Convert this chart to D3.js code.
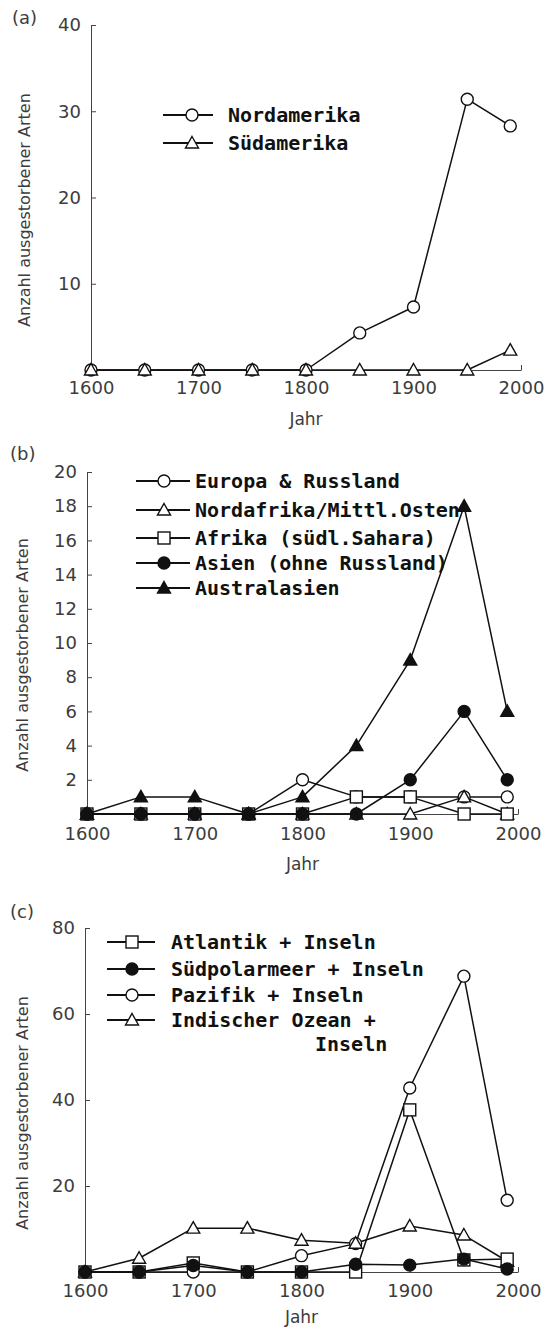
<!DOCTYPE html>
<html><head><meta charset="utf-8">
<script src="https://cdn.jsdelivr.net/npm/d3@7"></script>
<style>body{margin:0;background:#fff}</style>
</head><body><svg id="c" width="550" height="1330"></svg>
<script>
// ---- data ----
const years = [1600, 1650, 1700, 1750, 1800, 1850, 1900, 1950, 1990];
const xTickValues = [1600, 1700, 1800, 1900, 2000];
const yTicksA = [10, 20, 30, 40];
const yTicksB = [2, 4, 6, 8, 10, 12, 14, 16, 18, 20];
const yTicksC = [20, 40, 60, 80];

const nordamerika = [0, 0, 0, 0, 0, 4.3, 7.3, 31.4, 28.3];
const suedamerika = [0, 0, 0, 0, 0, 0, 0, 0, 2.3];

const europa = [0, 0, 0, 0, 2, 1, 1, 1, 1];
const nordafrika = [0, 0, 0, 0, 0, 0, 0, 1, 0];
const afrikaSued = [0, 0, 0, 0, 0, 1, 1, 0, 0];
const asien = [0, 0, 0, 0, 0, 0, 2, 6, 2];
const australasien = [0, 1, 1, 0, 1, 4, 9, 18, 6];

const atlantik = [0, 0, 2.1, 0, 0, 0, 37.7, 2.8, 3.0];
const suedpolar = [0, 0, 1.5, 0, 0, 1.8, 1.6, 3.0, 0.7];
const pazifik = [0, 0, 0, 0, 3.8, 6.6, 42.8, 68.8, 16.7];
const indisch = [0, 3.2, 10.2, 10.2, 7.4, 6.7, 10.7, 8.6, 2.5];

const yLabel = "Anzahl ausgestorbener Arten";
const xLabel = "Jahr";

// ---- drawing ----
const svg = d3.select('#c');
const INK = '#111';
const GREY = '#3c3c3c';

function drawMarker(g, type, cx, cy) {
  const filled = type.startsWith('f');
  const shape = type.slice(1);
  let el;
  if (shape === 'circle') {
    el = g.append('circle').attr('cx', cx).attr('cy', cy).attr('r', 6);
  } else if (shape === 'square') {
    el = g.append('rect').attr('x', cx - 6).attr('y', cy - 6).attr('width', 12).attr('height', 12);
  } else {
    el = g.append('path').attr('d', `M${cx},${cy - 6.5}L${cx + 6.5},${cy + 5}L${cx - 6.5},${cy + 5}Z`);
  }
  el.attr('fill', filled ? INK : '#fff').attr('stroke', INK).attr('stroke-width', 1.4);
}

function panel(cfg) {
  const x = d3.scaleLinear().domain([1600, 2000]).range(cfg.xr);
  const y = d3.scaleLinear().domain(cfg.yd).range(cfg.yr);
  const g = svg.append('g');

  const xa = d3.axisBottom(x).tickValues(xTickValues).tickFormat(d3.format('d'))
    .tickSizeInner(-5).tickSizeOuter(0).tickPadding(cfg.xpad);
  const gx = g.append('g').attr('transform', `translate(0,${y(0)})`).call(xa);
  const ya = d3.axisLeft(y).tickValues(cfg.yt).tickSizeInner(-5).tickSizeOuter(0).tickPadding(10);
  const gy = g.append('g').attr('transform', `translate(${x(1600)},0)`).call(ya);
  [gx, gy].forEach(a => {
    a.select('.domain').attr('stroke', '#444').attr('stroke-width', 1);
    a.selectAll('.tick line').attr('stroke', '#444');
    a.selectAll('.tick text').attr('font-family', 'DejaVu Sans')
      .attr('font-size', 18).attr('fill', GREY);
  });

  // axis titles
  g.append('text').attr('transform', `translate(${cfg.ylx},${cfg.yly}) rotate(-90)`)
    .attr('text-anchor', 'middle').attr('font-family', 'DejaVu Sans')
    .attr('font-size', 16).attr('fill', GREY).text(yLabel);
  g.append('text').attr('x', (cfg.xr[0] + cfg.xr[1]) / 2).attr('y', cfg.xly)
    .attr('text-anchor', 'middle').attr('font-family', 'DejaVu Sans')
    .attr('font-size', 17).attr('fill', GREY).text(xLabel);
  g.append('text').attr('x', cfg.tag[1]).attr('y', cfg.tag[2])
    .attr('font-family', 'DejaVu Sans')
    .attr('font-size', 18).attr('fill', GREY).text(cfg.tag[0]);

  const line = d3.line().x((d, i) => x(years[i])).y(d => y(d));
  cfg.series.forEach(s => {
    g.append('path').datum(s.values).attr('d', line).attr('fill', 'none')
      .attr('stroke', INK).attr('stroke-width', 1.5).attr('stroke-linejoin', 'round');
  });
  cfg.series.forEach(s => {
    const mg = g.append('g');
    s.values.forEach((v, i) => drawMarker(mg, s.marker, x(years[i]), y(v)));
  });

  // legend
  const L = cfg.legend;
  cfg.legendOrder.forEach((idx, k) => {
    const s = cfg.series[idx];
    const ly = L.rows[k];
    g.append('line').attr('x1', L.x1).attr('x2', L.x2).attr('y1', ly).attr('y2', ly)
      .attr('stroke', INK).attr('stroke-width', 2);
    drawMarker(g, s.marker, L.mx, ly);
    const lines = s.name.split('\n');
    lines.forEach((t, j) => {
      g.append('text').attr('x', j === 0 ? L.tx : L.tx2).attr('y', ly + 7 + j * 24)
        .attr('font-family', 'DejaVu Sans Mono').attr('font-weight', 'bold')
        .attr('font-size', 20).attr('fill', INK).text(t);
    });
  });
}

panel({
  xr: [91, 521], yd: [0, 40], yr: [370, 25], yt: yTicksA, xpad: 11,
  ylx: 30, yly: 210, xly: 425, tag: ['(a)', 12, 24],
  series: [
    { name: 'Nordamerika', values: nordamerika, marker: 'ocircle' },
    { name: 'Südamerika', values: suedamerika, marker: 'otriangle' }
  ],
  legendOrder: [0, 1],
  legend: { x1: 163, x2: 213, mx: 192, tx: 228, rows: [115, 143] }
});

panel({
  xr: [87, 518], yd: [0, 20], yr: [814, 472], yt: yTicksB, xpad: 13,
  ylx: 28, yly: 655, xly: 870, tag: ['(b)', 10, 460],
  series: [
    { name: 'Europa & Russland', values: europa, marker: 'ocircle' },
    { name: 'Nordafrika/Mittl.Osten', values: nordafrika, marker: 'otriangle' },
    { name: 'Afrika (südl.Sahara)', values: afrikaSued, marker: 'osquare' },
    { name: 'Australasien', values: australasien, marker: 'ftriangle' },
    { name: 'Asien (ohne Russland)', values: asien, marker: 'fcircle' }
  ],
  legendOrder: [0, 1, 2, 4, 3],
  legend: { x1: 136, x2: 190, mx: 164, tx: 195, rows: [481, 510, 538, 563, 588] }
});

panel({
  xr: [85, 518], yd: [0, 80], yr: [1272, 928], yt: yTicksC, xpad: 12,
  ylx: 28, yly: 1113, xly: 1323, tag: ['(c)', 10, 918],
  series: [
    { name: 'Pazifik + Inseln', values: pazifik, marker: 'ocircle' },
    { name: 'Indischer Ozean +\nInseln', values: indisch, marker: 'otriangle' },
    { name: 'Atlantik + Inseln', values: atlantik, marker: 'osquare' },
    { name: 'Südpolarmeer + Inseln', values: suedpolar, marker: 'fcircle' }
  ],
  legendOrder: [2, 3, 0, 1],
  legend: { x1: 107, x2: 155, mx: 132, tx: 171, tx2: 315, rows: [942, 969, 995, 1020] }
});
</script></body></html>
